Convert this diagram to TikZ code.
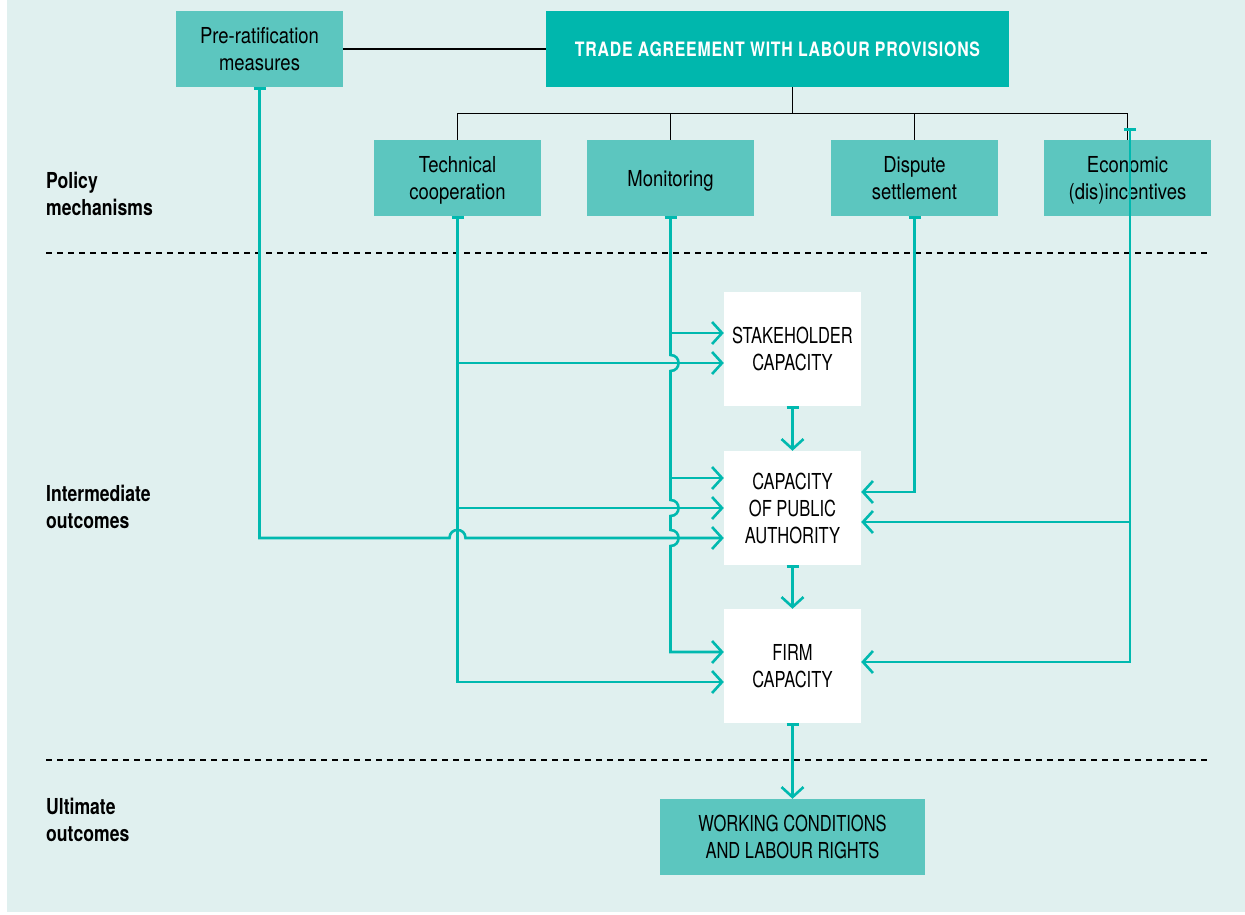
\documentclass[tikz,border=0pt]{standalone}
\usepackage{fontspec}
\setmainfont[FakeStretch=0.84]{TeX Gyre Heros}
\newfontfamily\labfont[FakeStretch=0.8]{TeX Gyre Heros}
\newfontfamily\capfont[FakeStretch=0.75]{TeX Gyre Heros}
\newfontfamily\titlefont[FakeStretch=0.8,LetterSpace=4]{TeX Gyre Heros}
\usetikzlibrary{arrows.meta,calc}
\definecolor{bgc}{RGB}{224,240,239}
\definecolor{boxc}{RGB}{92,198,191}
\definecolor{darkc}{RGB}{0,183,173}
\definecolor{linec}{RGB}{0,185,175}
\newcommand\mystrut{\rule[-5.5pt]{0pt}{27pt}}
\tikzset{
  mech/.style={fill=boxc, minimum width=167pt, minimum height=76pt, inner sep=0pt, align=center, font=\fontsize{22}{27}\selectfont},
  capmech/.style={fill=boxc, minimum width=265pt, minimum height=76pt, inner sep=0pt, align=center, font=\capfont\fontsize{22}{27}\selectfont},
  capbox/.style={fill=white, minimum width=137pt, minimum height=114pt, inner sep=0pt, align=center, font=\capfont\fontsize{22}{27}\selectfont},
  titlebox/.style={fill=darkc, minimum width=463pt, minimum height=76pt, inner sep=0pt, text=white, font=\titlefont\bfseries\fontsize{19.8}{24}\selectfont},
  lab/.style={anchor=west, align=left, inner sep=0pt, font=\labfont\bfseries\fontsize{22}{27}\selectfont},
  tree/.style={draw=black, line width=1.2pt},
  sep/.style={draw=black, line width=1.2pt, dash pattern=on 6pt off 5pt},
  conn/.style={draw=linec, line width=2.6pt, {Bar[width=12pt]}-{Straight Barb[length=10pt,width=22pt]}},
  arr/.style={draw=linec, line width=2.6pt, -{Straight Barb[length=10pt,width=22pt]}},
}
\begin{document}
\begin{tikzpicture}[x=1pt,y=-1pt]
\useasboundingbox (0,0) rectangle (1245,915);
\fill[bgc] (7,0) rectangle (1245,912);

% separators
\draw[sep] (46,253) -- (1211,253);
\draw[sep] (46,760) -- (1211,760);

% labels
\node[lab] (l1) at (46,193.5) {\mystrut Policy\\\mystrut mechanisms};
\node[lab] (l2) at (46,506.5) {\mystrut Intermediate\\\mystrut outcomes};
\node[lab] (l3) at (46,819.5) {\mystrut Ultimate\\\mystrut outcomes};

% top nodes
\node[mech] (pre) at (259.5,49) {\mystrut Pre-ratification\\\mystrut measures};
\node[titlebox] (ta) at (777.5,49) {TRADE AGREEMENT WITH LABOUR PROVISIONS};

\node[mech] (tech) at (457.5,178) {\mystrut Technical\\\mystrut cooperation};
\node[mech] (mon) at (670.5,178) {\mystrut Monitoring};
\node[mech] (disp) at (914.5,178) {\mystrut Dispute\\\mystrut settlement};
\node[mech] (econ) at (1127.5,178) {\mystrut Economic\\\mystrut (dis)incentives};

\node[capbox] (stake) at (792.5,349) {\mystrut STAKEHOLDER\\\mystrut CAPACITY};
\node[capbox] (pub) at (792.5,508) {\mystrut CAPACITY\\\mystrut OF PUBLIC\\\mystrut AUTHORITY};
\node[capbox] (firm) at (792.5,666) {\mystrut FIRM\\\mystrut CAPACITY};
\node[capmech] (work) at (792.5,837) {\mystrut WORKING CONDITIONS\\\mystrut AND LABOUR RIGHTS};

% tree
\draw[tree] (pre.east) -- (ta.west);
\draw[tree] (ta.south -| stake.north) -- ++(0,27);
\draw[tree] (tech.north) -- ++(0,-26) -| (econ.north);
\draw[tree] (mon.north) -- ++(0,-26);
\draw[tree] (disp.north) -- ++(0,-26);

% pre-ratification
\draw[conn] (pre.south) -- (259.5,538) -- (449.5,538)
  .. controls (449.5,527.3) and (465.5,527.3) .. (465.5,538)
  -- ($(pub.west)+(0,30)$);

% technical cooperation
\draw[conn] (tech.south) |- ($(firm.west)+(0,16)$);
\draw[arr] ($(stake.west -| tech.south)+(0,14)$) -- ($(stake.west)+(0,14)$);
\draw[arr] (pub.west -| tech.south) -- (pub.west);

% monitoring
\draw[conn] (mon.south) -- (670.5,355)
  .. controls (681.2,355) and (681.2,371) .. (670.5,371) -- (670.5,500)
  .. controls (681.2,500) and (681.2,516) .. (670.5,516) -- (670.5,530)
  .. controls (681.2,530) and (681.2,546) .. (670.5,546)
  |- ($(firm.west)+(0,-14)$);
\draw[arr] ($(stake.west -| mon.south)+(0,-16)$) -- ($(stake.west)+(0,-16)$);
\draw[arr] ($(pub.west -| mon.south)+(0,-30)$) -- ($(pub.west)+(0,-30)$);

% dispute settlement
\draw[conn] (disp.south) |- ($(pub.east)+(0,-16)$);

% economic
\coordinate (ectop) at (1130,128);
\draw[conn] (ectop) |- ($(firm.east)+(0,-4)$);
\draw[arr] ($(pub.east -| ectop)+(0,14)$) -- ($(pub.east)+(0,14)$);

% chain
\draw[conn] (stake.south) -- (pub.north);
\draw[conn] (pub.south) -- (firm.north);
\draw[conn] (firm.south) -- (work.north);
\end{tikzpicture}
\end{document}
